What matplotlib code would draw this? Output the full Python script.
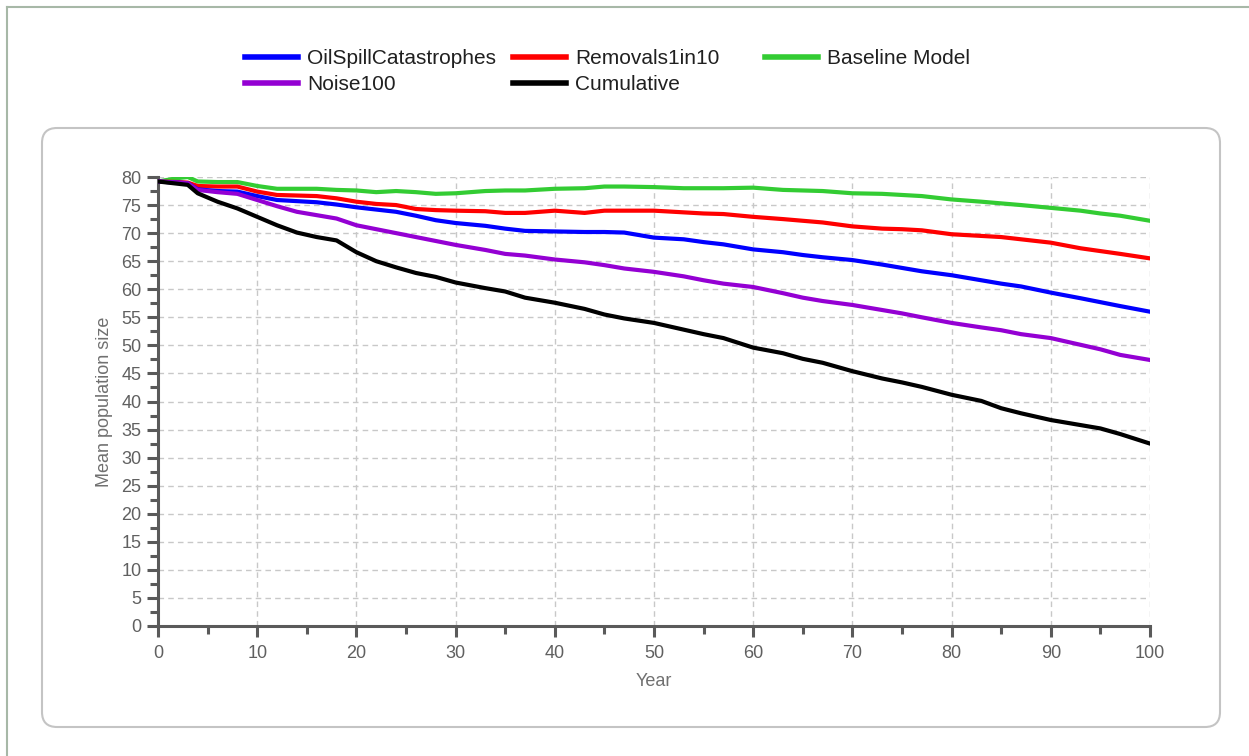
import numpy as np
import matplotlib.pyplot as plt
from matplotlib.patches import FancyBboxPatch
from matplotlib.lines import Line2D
from matplotlib.ticker import MultipleLocator

plt.rcParams['font.family'] = ['Liberation Sans', 'DejaVu Sans']

years = [0, 2, 3, 4, 6, 8, 10, 12, 14, 16, 18, 20, 22, 24, 26, 28, 30, 33, 35, 37,
         40, 43, 45, 47, 50, 53, 55, 57, 60, 63, 65, 67, 70, 73, 75, 77, 80, 83, 85, 87,
         90, 93, 95, 97, 100]

baseline = [79.2, 79.8, 80.0, 79.2, 79.1, 79.1, 78.4, 77.9, 77.9, 77.9, 77.7, 77.6, 77.3, 77.5,
            77.3, 77.0, 77.1, 77.5, 77.6, 77.6, 77.9, 78.0, 78.3, 78.3, 78.2, 78.0, 78.0, 78.0,
            78.1, 77.7, 77.6, 77.5, 77.1, 77.0, 76.8, 76.6, 76.0, 75.6, 75.3, 75.0, 74.5, 74.0,
            73.5, 73.1, 72.2]
removals = [79.2, 79.1, 79.0, 78.4, 78.3, 78.3, 77.4, 76.8, 76.7, 76.6, 76.2, 75.6, 75.2, 75.0,
            74.3, 74.1, 74.0, 73.9, 73.6, 73.6, 74.0, 73.6, 74.0, 74.0, 74.0, 73.7, 73.5, 73.4,
            72.9, 72.5, 72.2, 71.9, 71.2, 70.8, 70.7, 70.5, 69.8, 69.5, 69.3, 68.9, 68.3, 67.3,
            66.8, 66.3, 65.5]
oilspill = [79.2, 79.0, 78.9, 77.8, 77.5, 77.4, 76.6, 75.9, 75.7, 75.5, 75.1, 74.6, 74.2, 73.8,
            73.1, 72.3, 71.8, 71.3, 70.8, 70.4, 70.3, 70.2, 70.2, 70.1, 69.2, 68.9, 68.4, 68.0,
            67.1, 66.6, 66.1, 65.7, 65.2, 64.4, 63.8, 63.2, 62.5, 61.6, 61.0, 60.5, 59.4, 58.4,
            57.7, 57.0, 56.0]
noise = [79.2, 79.0, 78.9, 77.7, 77.3, 77.0, 75.9, 74.8, 73.8, 73.2, 72.6, 71.4, 70.7, 70.0,
         69.3, 68.6, 67.9, 67.0, 66.3, 66.0, 65.3, 64.8, 64.3, 63.7, 63.1, 62.3, 61.6, 61.0,
         60.4, 59.3, 58.5, 57.9, 57.2, 56.3, 55.7, 55.0, 54.0, 53.2, 52.7, 52.0, 51.3, 50.1,
         49.3, 48.3, 47.4]
cumulative = [79.2, 78.8, 78.6, 77.1, 75.6, 74.4, 72.9, 71.4, 70.1, 69.3, 68.7, 66.6, 65.0, 63.9,
              62.9, 62.2, 61.2, 60.2, 59.6, 58.5, 57.6, 56.5, 55.5, 54.8, 54.0, 52.8, 52.0, 51.3,
              49.6, 48.6, 47.6, 46.9, 45.4, 44.1, 43.4, 42.6, 41.2, 40.1, 38.8, 37.9, 36.7, 35.8,
              35.2, 34.2, 32.5]

fig = plt.figure(figsize=(12.49, 7.56), dpi=100)

# outer frame (top and left edges visible)
fig.add_artist(Line2D([0.07, 12.49], [7.49, 7.49], transform=fig.dpi_scale_trans,
                      color='#a7b8a7', lw=1.5))
fig.add_artist(Line2D([0.07, 0.07], [0, 7.49], transform=fig.dpi_scale_trans,
                      color='#a7b8a7', lw=1.5))
# rounded chart area
fig.add_artist(FancyBboxPatch((0.42, 0.29), 11.78, 5.99,
                              boxstyle='round,pad=0,rounding_size=0.15',
                              transform=fig.dpi_scale_trans,
                              facecolor='none', edgecolor='#c4c4c4', lw=1.5))

ax = fig.add_axes([158 / 1249, 1 - 626 / 756, 992 / 1249, 449 / 756])

ax.plot(years, baseline, color='#33cc33', lw=3, label='Baseline Model', zorder=3)
ax.plot(years, removals, color='#ff0000', lw=3, label='Removals1in10', zorder=3)
ax.plot(years, oilspill, color='#0000ff', lw=3, label='OilSpillCatastrophes', zorder=3)
ax.plot(years, noise, color='#9400d3', lw=3, label='Noise100', zorder=3)
ax.plot(years, cumulative, color='#000000', lw=3, label='Cumulative', zorder=3)

ax.set_xlim(0, 100)
ax.set_ylim(0, 80)
ax.xaxis.set_major_locator(MultipleLocator(10))
ax.xaxis.set_minor_locator(MultipleLocator(5))
ax.yaxis.set_major_locator(MultipleLocator(5))
ax.yaxis.set_minor_locator(MultipleLocator(2.5))

ax.grid(True, which='major', color='#c8c8c8', linestyle=(0, (4, 3)), lw=1, zorder=0)
ax.spines['top'].set_visible(False)
ax.spines['right'].set_visible(False)
for s in ['left', 'bottom']:
    ax.spines[s].set_color('#5a5a5a')
    ax.spines[s].set_linewidth(2.2)
ax.tick_params(which='major', length=8, width=2.2, color='#5a5a5a',
               labelcolor='#606060', labelsize=13)
ax.tick_params(which='minor', length=5.5, width=2.2, color='#5a5a5a')
ax.tick_params(axis='y', which='major', pad=4)
ax.tick_params(axis='x', which='major', pad=6)

ax.set_xlabel('Year', color='#707070', fontsize=13)
ax.set_ylabel('Mean population size', color='#707070', fontsize=13)
ax.yaxis.set_label_coords(-0.045, 0.5)
ax.xaxis.set_label_coords(0.5, -0.105)

# legend: three columns placed like the original
h = {l.get_label(): l for l in ax.get_lines()}
cols = [(['OilSpillCatastrophes', 'Noise100'], 245),
        (['Removals1in10', 'Cumulative'], 513),
        (['Baseline Model'], 765)]
for names, px in cols:
    leg = fig.legend([h[n] for n in names], names, loc='upper left',
                     bbox_to_anchor=(px / 1249, 1 - 49 / 756), frameon=False,
                     fontsize=15, handlelength=2.55, handletextpad=0.43,
                     labelspacing=0.33, borderpad=0, borderaxespad=0)
    for t in leg.get_texts():
        t.set_color('#202020')
    for l in leg.get_lines():
        l.set_linewidth(4)

fig.savefig('out.png', dpi=100)
